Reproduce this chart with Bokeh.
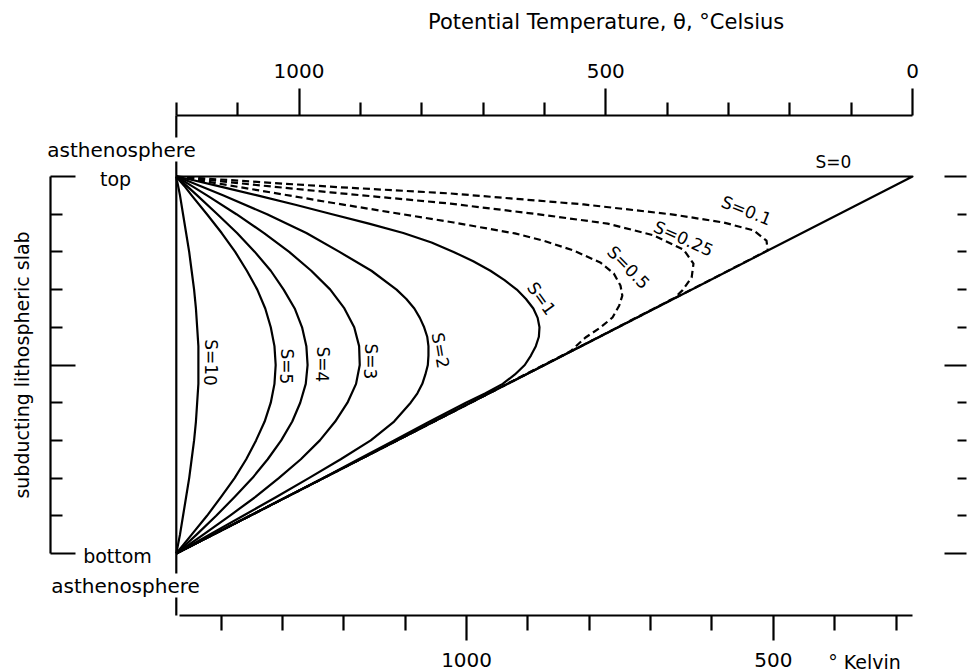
from bokeh.plotting import figure
from bokeh.models import Range1d, LinearAxis, FixedTicker, Label
from bokeh.embed import file_html
from bokeh.resources import INLINE

# ---------------- data (potential temperature in deg C vs. fractional depth in slab) ----------------
S0_DEPTH = [0, 0, 1]
S0_THETA = [1200, 0, 1200]

S01_DEPTH = [0, 0.005, 0.027, 0.045, 0.074, 0.101, 0.122, 0.143, 0.170, 0.196, 0.4, 0.6, 0.8, 1.0]
S01_THETA = [1200, 1156, 949, 753, 536, 390, 308, 259, 238, 236, 480, 720, 960, 1200]

S025_DEPTH = [0, 0.021, 0.042, 0.072, 0.101, 0.125, 0.156, 0.194, 0.231, 0.268, 0.302, 0.322, 0.5, 0.75, 1.0]
S025_THETA = [1200, 1079, 949, 753, 606, 497, 422, 373, 357, 360, 375, 388, 600, 900, 1200]

S05_DEPTH = [0, 0.033, 0.069, 0.122, 0.151, 0.170, 0.196, 0.228, 0.257, 0.289, 0.316, 0.342, 0.374,
             0.401, 0.427, 0.463, 0.7, 1.0]
S05_THETA = [1200, 1079, 949, 748, 648, 602, 553, 509, 487, 476, 473, 478, 489, 509, 533, 557, 840, 1200]

S1_DEPTH = [0, 0.01, 0.025, 0.05, 0.075, 0.1, 0.125, 0.15, 0.175, 0.2, 0.225, 0.25, 0.275, 0.3, 0.325,
            0.35, 0.375, 0.4, 0.425, 0.45, 0.475, 0.5, 0.525, 0.55, 0.575, 0.6, 0.65, 0.7, 0.75, 0.8,
            0.9, 1.0]
S1_THETA = [1200, 1172, 1133, 1068, 1006, 946, 886, 830, 784, 748, 716, 688, 665, 645, 630,
            618, 611, 608, 609, 614, 622, 632, 648, 668, 696, 728, 787, 845, 903, 961,
            1080, 1200]

S2_DEPTH = [0, 0.01, 0.025, 0.05, 0.1, 0.15, 0.2, 0.25, 0.3, 0.325, 0.35, 0.375, 0.4, 0.425, 0.45,
            0.475, 0.5, 0.525, 0.55, 0.575, 0.6, 0.65, 0.7, 0.75, 0.8, 0.85, 0.9, 0.95, 1.0]
S2_THETA = [1200, 1184, 1161, 1124, 1052, 988, 934, 882, 841, 825, 812, 803, 796, 791, 789,
            789, 790, 794, 799, 807, 818, 845, 883, 932, 984, 1037, 1091, 1146, 1200]

DEPTH = [0, 0.01, 0.025, 0.05, 0.1, 0.15, 0.2, 0.25, 0.3, 0.35, 0.4, 0.45, 0.5, 0.55, 0.6, 0.65,
         0.7, 0.75, 0.8, 0.85, 0.9, 0.95, 1.0]
S3_THETA = [1200, 1190, 1175, 1150, 1102, 1057, 1016, 980, 949, 926, 910, 902, 901, 907, 921, 941,
            966, 997, 1033, 1071, 1113, 1156, 1200]
S4_THETA = [1200, 1193, 1183, 1166, 1133, 1101, 1072, 1046, 1025, 1007, 995, 988, 986, 989, 998, 1011,
            1029, 1051, 1076, 1105, 1135, 1167, 1200]
S5_THETA = [1200, 1195, 1187, 1175, 1150, 1126, 1104, 1085, 1068, 1055, 1046, 1040, 1038, 1040, 1046,
            1056, 1070, 1086, 1105, 1127, 1150, 1175, 1200]
S10_THETA = [1200, 1199, 1197, 1194, 1189, 1184, 1179, 1175, 1171, 1168, 1166, 1164, 1164, 1164, 1166,
             1168, 1171, 1175, 1179, 1184, 1189, 1194, 1200]

ASTHENOSPHERE_T = 1200          # deg C
KELVIN_OFFSET = 273.15

CELSIUS_MAJOR = [1000, 500, 0]
CELSIUS_MINOR = [1200, 1100, 900, 800, 700, 600, 400, 300, 200, 100]
KELVIN_MAJOR = [1000, 500]
KELVIN_MINOR = [1400, 1300, 1200, 1100, 900, 800, 700, 600, 400, 300]
SLAB_MAJOR = [0, 0.5, 1]
SLAB_MINOR = [0.1, 0.2, 0.3, 0.4, 0.6, 0.7, 0.8, 0.9]

# ---------------- layout (page pixels; the frame fills the whole canvas) ----------------
W, H = 967, 672
PX_ZERO_C, PX_PER_DEG = 912.0, 0.6135     # x pixel of 0 deg C, pixels per deg C
PY_TOP, PY_PER_DEPTH = 176.0, 377.0        # y pixel of slab top, pixels per slab thickness


def tx(px):
    return (PX_ZERO_C - px) / PX_PER_DEG


def ty(py):
    return (py - PY_TOP) / PY_PER_DEPTH


TOP_AXIS_Y = ty(115)
BOTTOM_AXIS_Y = ty(615)
LEFT_AXIS_X = tx(50)
RIGHT_AXIS_X = tx(966)

FONT = "DejaVu Sans"
LW = 2.2

p = figure(width=W, height=H,
           x_range=Range1d(tx(0), tx(W)), y_range=Range1d(ty(H), ty(0)),
           x_axis_type=None, y_axis_type=None,
           output_backend="svg", toolbar_location=None,
           min_border=0, min_border_left=0, min_border_top=0,
           min_border_right=0, min_border_bottom=0)
p.outline_line_color = None
p.background_fill_color = "white"
p.border_fill_color = "white"
p.extra_x_ranges = {"kelvin": Range1d(tx(0) + KELVIN_OFFSET, tx(W) + KELVIN_OFFSET)}


def style_axis(ax):
    ax.axis_line_color = "black"
    ax.axis_line_width = LW
    ax.major_tick_line_color = "black"
    ax.minor_tick_line_color = "black"
    ax.major_tick_line_width = LW
    ax.minor_tick_line_width = LW
    ax.major_label_text_font = FONT
    ax.major_label_text_font_size = "20px"
    ax.major_label_text_color = "black"


top_axis = LinearAxis(ticker=FixedTicker(ticks=CELSIUS_MAJOR, minor_ticks=CELSIUS_MINOR),
                      bounds=(0, ASTHENOSPHERE_T), fixed_location=TOP_AXIS_Y)
style_axis(top_axis)
top_axis.major_tick_out = 27
top_axis.major_tick_in = 0
top_axis.minor_tick_out = 13
top_axis.minor_tick_in = 0
top_axis.major_label_standoff = 11
p.add_layout(top_axis, "above")

bottom_axis = LinearAxis(x_range_name="kelvin",
                         ticker=FixedTicker(ticks=KELVIN_MAJOR, minor_ticks=KELVIN_MINOR),
                         bounds=(KELVIN_OFFSET, 1468), fixed_location=BOTTOM_AXIS_Y)
style_axis(bottom_axis)
bottom_axis.major_tick_out = 25
bottom_axis.major_tick_in = 0
bottom_axis.minor_tick_out = 15
bottom_axis.minor_tick_in = 0
bottom_axis.major_label_standoff = 12
p.add_layout(bottom_axis, "below")

blank = {0: "", 0.5: "", 1: ""}
left_axis = LinearAxis(ticker=FixedTicker(ticks=SLAB_MAJOR, minor_ticks=SLAB_MINOR), bounds=(0, 1),
                       major_label_overrides=blank, fixed_location=LEFT_AXIS_X)
style_axis(left_axis)
left_axis.major_tick_in = 25
left_axis.major_tick_out = 0
left_axis.minor_tick_in = 12
left_axis.minor_tick_out = 0
left_axis.major_label_standoff = 0
left_axis.axis_label = "subducting lithospheric slab"
left_axis.axis_label_text_font = FONT
left_axis.axis_label_text_font_size = "19px"
left_axis.axis_label_text_font_style = "normal"
left_axis.axis_label_text_color = "black"
left_axis.axis_label_standoff = 18
p.add_layout(left_axis, "left")

right_axis = LinearAxis(ticker=FixedTicker(ticks=SLAB_MAJOR, minor_ticks=SLAB_MINOR), bounds=(0, 1),
                        major_label_overrides=blank, fixed_location=RIGHT_AXIS_X)
style_axis(right_axis)
right_axis.axis_line_alpha = 0
right_axis.major_tick_in = 22
right_axis.major_tick_out = 0
right_axis.minor_tick_in = 9
right_axis.minor_tick_out = 0
right_axis.major_label_standoff = 0
p.add_layout(right_axis, "right")

# asthenosphere boundary: vertical line at the asthenosphere temperature, between the two axes
p.segment(x0=[ASTHENOSPHERE_T], y0=[TOP_AXIS_Y], x1=[ASTHENOSPHERE_T], y1=[BOTTOM_AXIS_Y],
          line_color="black", line_width=LW)

# curves
solid = [(S0_THETA, S0_DEPTH), (S1_THETA, S1_DEPTH), (S2_THETA, S2_DEPTH), (S3_THETA, DEPTH),
         (S4_THETA, DEPTH), (S5_THETA, DEPTH), (S10_THETA, DEPTH)]
dashed = [(S01_THETA, S01_DEPTH), (S025_THETA, S025_DEPTH), (S05_THETA, S05_DEPTH)]
for th, dp in dashed:
    p.line(th, dp, line_color="black", line_width=LW, line_dash="7 4", line_join="round")
for th, dp in solid:
    p.line(th, dp, line_color="black", line_width=LW, line_join="round")


def add_text(text, px, py, size="19px", angle=0.0, bg=None):
    lab = Label(x=tx(px), y=ty(py), text=text, text_font=FONT, text_font_size=size,
                text_color="black", text_align="center", text_baseline="middle", angle=angle)
    if bg:
        lab.background_fill_color = bg
    p.add_layout(lab)


# axis titles and side labels (positions in page pixels)
add_text("Potential Temperature,  \u03b8, \u00b0Celsius", 609, 21, size="21px")
add_text("\u00b0 Kelvin", 864, 661, size="19px")
add_text("asthenosphere", 121, 149, size="20px", bg="white")
add_text("top", 115, 178)
add_text("bottom", 117, 555)
add_text("asthenosphere", 125, 585, size="20px", bg="white")

# curve labels
CL = "17px"
add_text("S=0", 833, 161, size=CL)
add_text("S=0.1", 746, 210, size=CL, angle=-0.38)
add_text("S=0.25", 683, 238, size=CL, angle=-0.42)
add_text("S=0.5", 628, 267, size=CL, angle=-0.80)
add_text("S=1", 541, 298, size=CL, angle=-0.95)
add_text("S=2", 440, 350, size=CL, angle=-1.40)
add_text("S=3", 370, 361, size=CL, angle=-1.5708)
add_text("S=4", 322, 364, size=CL, angle=-1.5708)
add_text("S=5", 286, 366, size=CL, angle=-1.5708)
add_text("S=10", 210, 362, size=CL, angle=-1.5708)

open("out.html", "w").write(file_html(p, INLINE))
